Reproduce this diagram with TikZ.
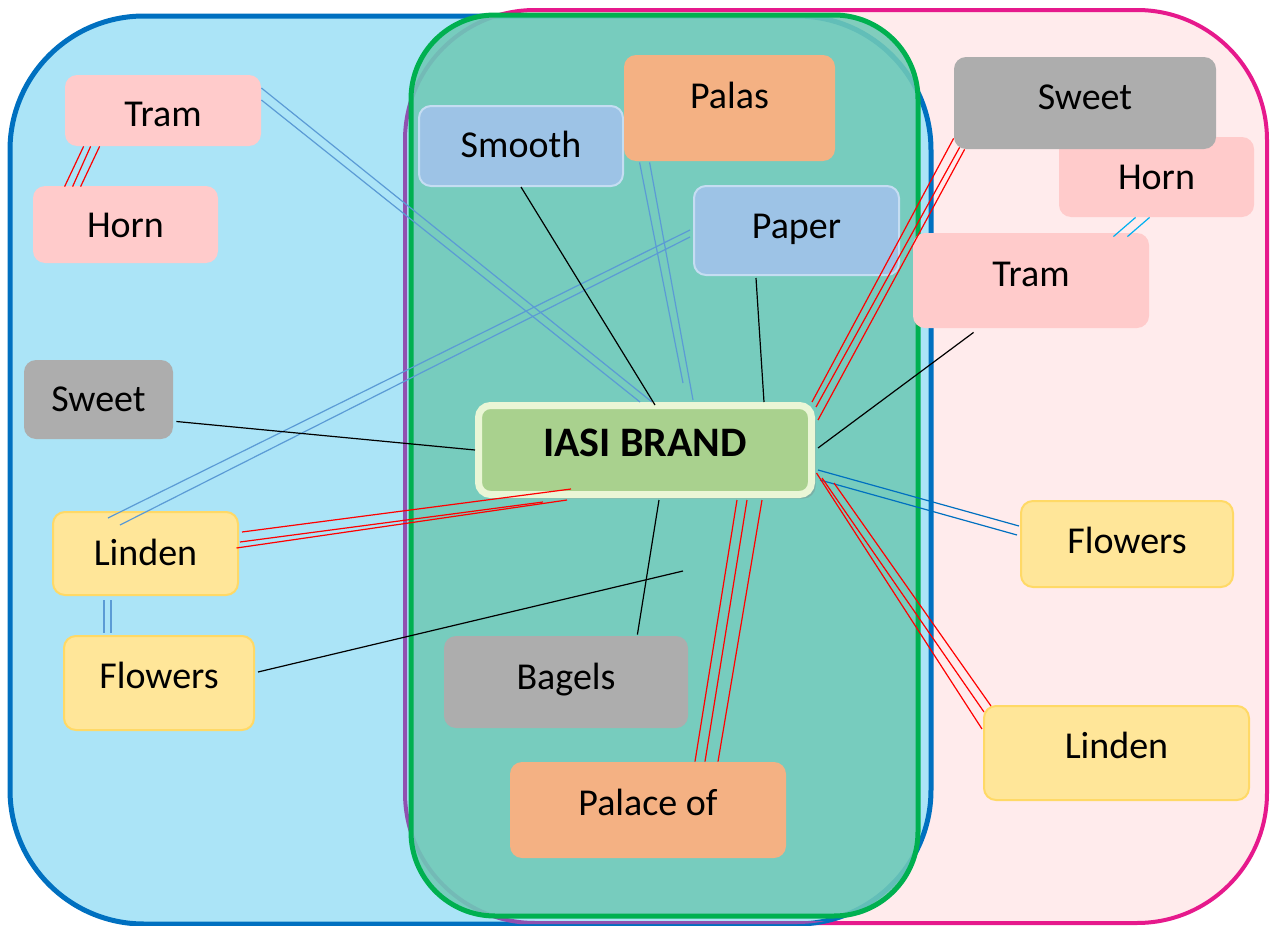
\documentclass[tikz,border=0pt]{standalone}
\usepackage{fontspec}
\setmainfont{Carlito}
\usetikzlibrary{shadows}

\definecolor{skyfill}{HTML}{ABE4F7}
\definecolor{skyline}{HTML}{0070C0}
\definecolor{rosefill}{HTML}{FFEBEC}
\definecolor{roseline}{HTML}{E6198C}
\definecolor{edgepurple}{HTML}{9050B0}
\definecolor{tealfill}{HTML}{70C9B7}
\definecolor{greenline}{HTML}{00B050}
\definecolor{tramfill}{HTML}{FFCBCB}
\definecolor{sweetfill}{HTML}{ADADAD}
\definecolor{palasfill}{HTML}{F4B183}
\definecolor{paperfill}{HTML}{9DC3E6}
\definecolor{paperline}{HTML}{C5DDF2}
\definecolor{lindenfill}{HTML}{FFE699}
\definecolor{lindenline}{HTML}{FFD966}
\definecolor{brandfill}{HTML}{A9D18E}
\definecolor{brandline}{HTML}{EAF6D6}
\definecolor{linkblue}{HTML}{5B9BD5}
\definecolor{linkcyan}{HTML}{00B0F0}

\begin{document}
\begin{tikzpicture}[
        x=0.5pt, y=-0.5pt,
        every node/.style={rectangle, rounded corners=6pt, inner sep=2pt, text height=16pt, font=\fontsize{19}{23}\selectfont},
        boxsize/.style 2 args={minimum width=#1*0.5pt, minimum height=#2*0.5pt},
        lift/.style={text depth=#1},
        tram/.style={fill=tramfill},
        sweet/.style={fill=sweetfill},
        palas/.style={fill=palasfill},
        paper/.style={fill=paperfill, draw=paperline, line width=1pt},
        linden/.style={fill=lindenfill, draw=lindenline, line width=1pt},
        brand/.style={fill=brandfill, draw=brandline, line width=3.5pt, font=\fontsize{21}{25}\selectfont\bfseries, drop shadow={opacity=0.35, shadow xshift=2pt, shadow yshift=-2pt}},
        redlink/.style={red, line width=0.6pt},
        bluelink/.style={linkblue, line width=0.6pt},
        darklink/.style={skyline, line width=0.6pt},
        cyanlink/.style={linkcyan, line width=0.6pt},
        blacklink/.style={black, line width=0.6pt}
    ]

    \useasboundingbox (0,0) rectangle (1271,926);
    \begin{scope}
        \clip (0,0) rectangle (1271,926);
        \draw[roseline, fill=rosefill, line width=2pt, rounded corners=65pt] (405,10) rectangle (1267,923);
        \draw[skyline, fill=skyfill, line width=2.5pt, rounded corners=67pt] (10,16) rectangle (931,924);
        \begin{scope}
            \clip[rounded corners=67pt] (10,16) rectangle (931,924);
            \draw[edgepurple, line width=2pt, rounded corners=65pt] (405,10) rectangle (1267,923);
        \end{scope}
        \draw[greenline, fill=tealfill, fill opacity=0.88, line width=2.5pt, rounded corners=42pt] (411,15) rectangle (918,916);
    \end{scope}

    \node[tram, boxsize={196}{71}, lift=0.1pt] (tramL) at (163,110.5) {Tram};
    \node[tram, boxsize={185}{77}, lift=3.3pt] (hornL) at (125.5,224.5) {Horn};
    \node[paper, boxsize={204}{80}, lift=4.8pt] (smooth) at (521,146) {Smooth};
    \node[palas, boxsize={211}{106}, lift=15.1pt] (palas) at (729.5,108) {Palas};
    \node[tram, boxsize={195}{80}, lift=3.8pt] (hornR) at (1156.5,177) {Horn};
    \node[sweet, boxsize={262}{92}, lift=9.3pt] (sweetR) at (1085,103) {Sweet};
    \node[paper, boxsize={205}{89}, lift=8.3pt] (paper) at (796.5,230.5) {Paper};
    \node[tram, boxsize={236}{95}, lift=9.8pt] (tramR) at (1031,280.5) {Tram};
    \node[sweet, boxsize={149}{79}, lift=3.8pt] (sweetL) at (98.5,399.5) {Sweet};
    \node[brand, boxsize={333}{89}, lift=9.5pt] (iasi) at (645,450) {IASI BRAND};
    \node[linden, boxsize={185}{83}, lift=4.5pt] (lindenL) at (145.5,553.5) {Linden};
    \node[linden, boxsize={190}{94}, lift=10.8pt] (flowersL) at (159,683) {Flowers};
    \node[linden, boxsize={212}{86}, lift=6.5pt] (flowersR) at (1127,544) {Flowers};
    \node[sweet, boxsize={244}{92}, lift=8.8pt] (bagels) at (566,682) {Bagels};
    \node[palas, boxsize={276}{96}, lift=10.8pt] (palace) at (648,810) {Palace of};
    \node[linden, boxsize={265}{94}, lift=10.5pt] (lindenR) at (1116.5,753) {Linden};
    \coordinate (flend) at (683,571);

    \draw[redlink] ([shift={(19,0)}]tramL.south west) -- ([shift={(32,1)}]hornL.north west);
    \draw[redlink] ([shift={(26,0)}]tramL.south west) -- ([shift={(40,1)}]hornL.north west);
    \draw[redlink] ([shift={(35,0)}]tramL.south west) -- ([shift={(48,1)}]hornL.north west);

    \draw[bluelink] ([shift={(52,4)}]lindenL.south west) -- ([shift={(41,-2)}]flowersL.north west);
    \draw[bluelink] ([shift={(59,4)}]lindenL.south west) -- ([shift={(48,-2)}]flowersL.north west);

    \draw[bluelink] ([shift={(0,-22.5)}]tramL.east) -- ([shift={(7,0)}]iasi.north);
    \draw[bluelink] ([shift={(0,-10.5)}]tramL.east) -- ([shift={(-5,0)}]iasi.north);

    \draw[bluelink] ([shift={(56,7)}]lindenL.north west) -- ([shift={(-3,-0.5)}]paper.west);
    \draw[bluelink] ([shift={(68,14)}]lindenL.north west) -- ([shift={(-3,6.5)}]paper.west);

    \draw[blacklink] ([shift={(3,22)}]sweetL.east) -- (iasi.west);
    \draw[blacklink] (smooth.south) -- ([shift={(10,3)}]iasi.north);

    \draw[bluelink] ([shift={(16,1)}]palas.south west) -- ([shift={(38,-19)}]iasi.north);
    \draw[bluelink] ([shift={(26,1)}]palas.south west) -- ([shift={(48,-2)}]iasi.north);

    \draw[blacklink] ([shift={(63,2)}]paper.south west) -- ([shift={(119,0)}]iasi.north);

    \draw[redlink] ([shift={(0,-11)}]sweetR.south west) -- ([shift={(-3,0)}]iasi.north east);
    \draw[redlink] ([shift={(6,-2)}]sweetR.south west) -- ([shift={(1,5)}]iasi.north east);
    \draw[redlink] ([shift={(11,0)}]sweetR.south west) -- ([shift={(3,18)}]iasi.north east);

    \draw[blacklink] ([shift={(3,-2)}]iasi.east) -- ([shift={(61,4)}]tramR.south west);

    \draw[cyanlink] ([shift={(77,0)}]hornR.south west) -- ([shift={(-36,4)}]tramR.north east);
    \draw[cyanlink] ([shift={(91,0)}]hornR.south west) -- ([shift={(-22,4)}]tramR.north east);

    \draw[redlink] ([shift={(3,21)}]lindenL.north east) -- ([shift={(96,-9)}]iasi.south west);
    \draw[redlink] ([shift={(1,31)}]lindenL.north east) -- ([shift={(68,4)}]iasi.south west);
    \draw[redlink] ([shift={(-2.5,37)}]lindenL.north east) -- ([shift={(92,2)}]iasi.south west);

    \draw[blacklink] ([shift={(3,-11)}]flowersL.east) -- (flend);
    \draw[blacklink] ([shift={(14,2)}]iasi.south) -- ([shift={(-51,-1)}]bagels.north east);

    \draw[redlink] ([shift={(92,2)}]iasi.south) -- ([shift={(47,0)}]palace.north);
    \draw[redlink] ([shift={(102,2)}]iasi.south) -- ([shift={(57,0)}]palace.north);
    \draw[redlink] ([shift={(117,2)}]iasi.south) -- ([shift={(70,0)}]palace.north);

    \draw[darklink] ([shift={(3,20)}]iasi.east) -- ([shift={(-1,-18)}]flowersR.west);
    \draw[darklink] ([shift={(5,30)}]iasi.east) -- ([shift={(-3,-9)}]flowersR.west);

    \draw[redlink] ([shift={(1.5,23)}]iasi.east) -- ([shift={(-1,24)}]lindenR.north west);
    \draw[redlink] ([shift={(7,28)}]iasi.east) -- ([shift={(1,7)}]lindenR.north west);
    \draw[redlink] ([shift={(19,33)}]iasi.east) -- ([shift={(8,1)}]lindenR.north west);

\end{tikzpicture}
\end{document}
